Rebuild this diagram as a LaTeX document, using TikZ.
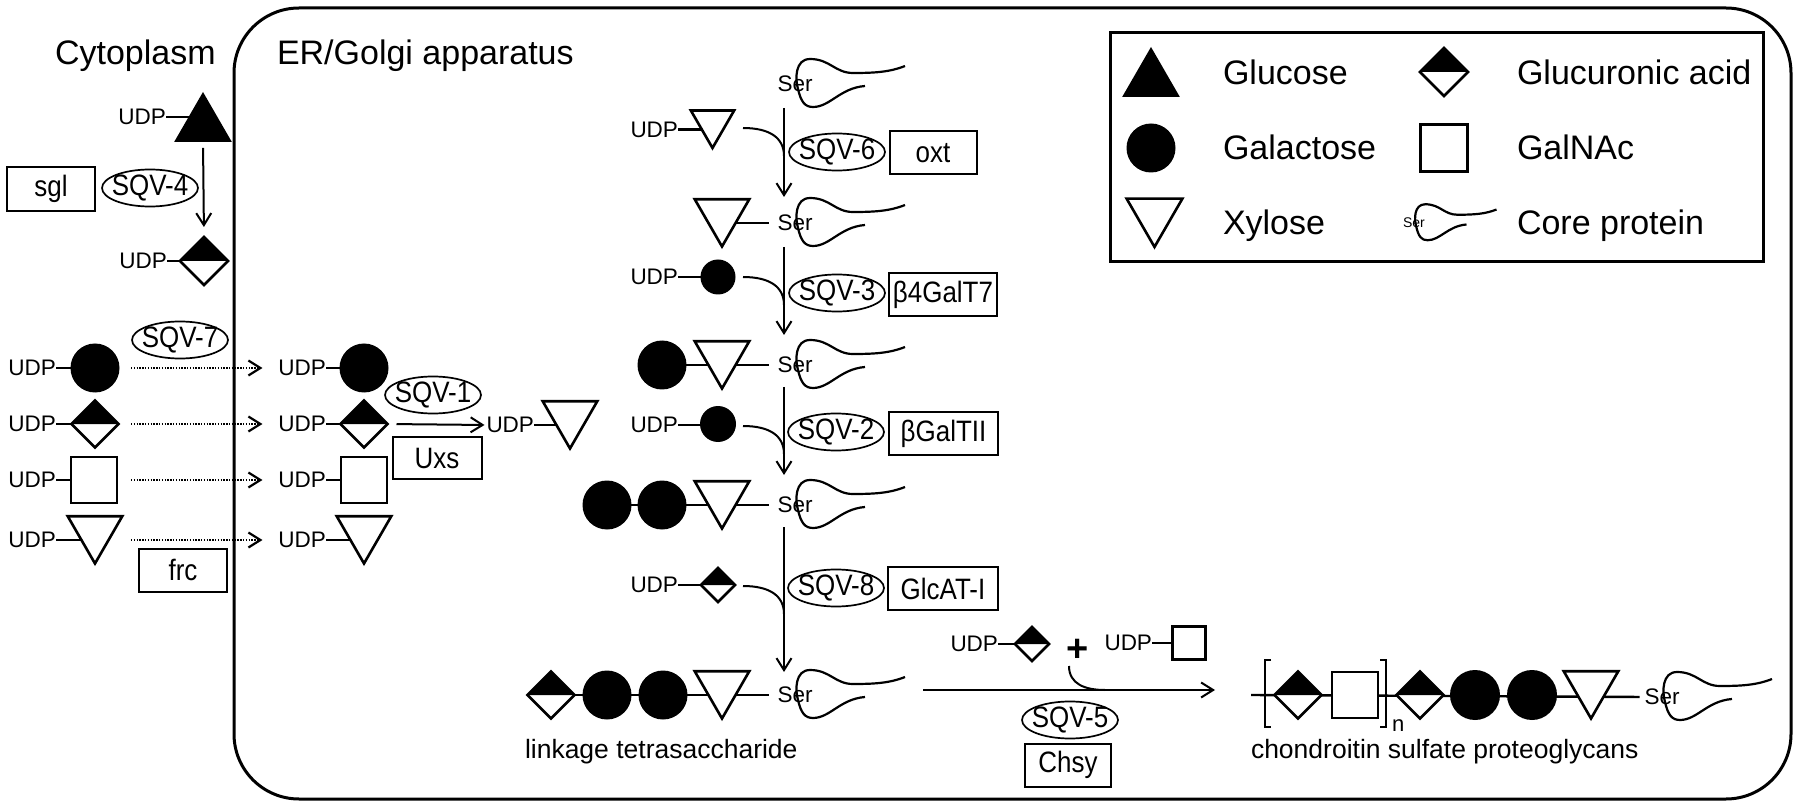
\documentclass[tikz,border=0pt]{standalone}
\usepackage{fontspec}
\setmainfont{Liberation Sans}
\newfontfamily\condfont[FakeStretch=0.88]{Liberation Sans}
\usetikzlibrary{shapes.geometric,arrows.meta,backgrounds}
\newcommand\zw[1]{\makebox[0pt]{#1}}
\begin{document}
\begin{tikzpicture}[x=1pt,y=-1pt,
  every node/.style={inner sep=0pt,outer sep=0pt},
  udp/.style={font=\fontsize{22.5}{25}\selectfont},
  sertext/.style={font=\fontsize{22.5}{25}\selectfont},
  big/.style={font=\fontsize{34}{40}\selectfont},
  lab/.style={font=\fontsize{26.5}{30}\selectfont},
  enz/.style={draw,line width=2pt,font=\condfont\fontsize{29.5}{32}\selectfont,minimum height=43},
  sqv/.style={ellipse,draw,line width=1.7pt,font=\condfont\fontsize{29.5}{32}\selectfont,minimum width=96,minimum height=37},
  arr/.style={line width=2pt,-{Straight Barb[length=12pt,width=15pt]}},
  dotarr/.style={line width=2.2pt,dash pattern=on 1.3pt off 1.5pt,-{Straight Barb[length=12pt,width=15pt]}},
  bond/.style={line width=2.4pt},
  galS/.style={circle,fill=black,minimum size=#1},
  glcS/.style={regular polygon,regular polygon sides=3,fill=black,minimum size=#1},
  xylS/.style={regular polygon,regular polygon sides=3,shape border rotate=180,draw,line width=2.6pt,fill=white,minimum size=#1},
  sqS/.style={rectangle,draw,line width=2.6pt,fill=white,minimum size=#1},
  gaS/.style={diamond,draw,line width=2.6pt,fill=white,minimum size=#1,
    path picture={\fill[black] (path picture bounding box.west) -- (path picture bounding box.north) -- (path picture bounding box.east) -- cycle;}},
  protein/.pic={\draw[line width=2.2pt] (70,2) .. controls (45,4) and (35,23) .. (18,23) .. controls (10,23) and (6,18) .. (3,5) .. controls (0,-5) and (0,-25) .. (15,-25) .. controls (35,-25) and (40,-11) .. (58,-11) .. controls (80,-11) and (95,-12) .. (110,-18);}
]
\useasboundingbox (0,0) rectangle (1800,810);
% compartments
\draw[line width=3pt,rounded corners=65pt] (234,8) rectangle (1791,799);
\node[big,anchor=base west] (cyto) at (55,65) {Cytoplasm};
\node[big,anchor=base west] (er) at (277,65) {ER/Golgi apparatus};

% legend
\draw[line width=3pt] (1110,33) rectangle (1763,262);
\node[glcS=66.6] (glcL) at (1151,80.3) {};
\node[big,anchor=base west] (tglc) at (1223,85) {Glucose};
\node[gaS=48] (gaL) at (1444,72) {};
\node[big,anchor=base west] (tga) at (1517,85) {Glucuronic acid};
\node[galS=49] (galL) at (1151,148) {};
\node[big,anchor=base west] (tgal) at (1223,160) {Galactose};
\node[sqS=47] (sqL) at (1444,148) {};
\node[big,anchor=base west] (tsq) at (1517,160) {GalNAc};
\node[xylS=64.5] (xylL) at (1154.5,214.7) {};
\node[big,anchor=base west] (txyl) at (1517,235) {Core protein};
\node[big,anchor=base west] (txyl2) at (1223,235) {Xylose};
\node[font=\fontsize{14}{16}\selectfont] (serL) at (1414,223) {Ser};
\pic[scale=0.75] at (serL) {protein};

% cytoplasm: UDP-Glc -> UDP-GlcA
\node[glcS=66.6] (glc0) at (203,125.3) {};
\node[udp,anchor=east] (u0) at (166,117) {UDP};
\node[gaS=48] (ga0) at (204,261) {};
\node[udp,anchor=east] (u1) at (167,261) {UDP};
\draw[arr,shorten <=6pt,shorten >=10pt] (glc0.south) -- (ga0.north);
\node[enz,minimum width=88,minimum height=44] (sgl) at (51,189) {sgl};
\node[sqv] (sqv4) at (150,188) {\zw{SQV-4}};

% transport rows
\node[udp,anchor=east] (ua1) at (56,368) {UDP};
\node[galS=49] (sa1) at (95,368) {};
\node[udp,anchor=east] (ua2) at (56,424) {UDP};
\node[gaS=47] (sa2) at (95,424) {};
\node[udp,anchor=east] (ua3) at (56,480) {UDP};
\node[sqS=46] (sa3) at (94,480) {};
\node[udp,anchor=east] (ua4) at (56,540) {UDP};
\node[xylS=63] (sa4) at (95,532) {};

\node[udp,anchor=east] (ub1) at (326,368) {UDP};
\node[galS=49] (sb1) at (364,368) {};
\node[udp,anchor=east] (ub2) at (326,424) {UDP};
\node[gaS=47] (sb2) at (364,424) {};
\node[udp,anchor=east] (ub3) at (326,480) {UDP};
\node[sqS=46] (sb3) at (364,480) {};
\node[udp,anchor=east] (ub4) at (326,540) {UDP};
\node[xylS=63] (sb4) at (364,532) {};

\draw[dotarr] ([xshift=75pt]ua1.east) -- ([xshift=-16pt]ub1.west);
\draw[dotarr] ([xshift=75pt]ua2.east) -- ([xshift=-16pt]ub2.west);
\draw[dotarr] ([xshift=75pt]ua3.east) -- ([xshift=-16pt]ub3.west);
\draw[dotarr] ([xshift=75pt]ua4.east) -- ([xshift=-16pt]ub4.west);
\node[sqv] (sqv7) at (180,340) {\zw{SQV-7}};
\node[enz,minimum width=88] (frc) at (183,570) {frc};

% Uxs
\node[udp,anchor=east] (uc) at (534,425) {UDP};
\node[xylS=63] (xc) at (570,417) {};
\draw[arr,shorten <=9pt,shorten >=2pt] (sb2.east) -- (uc.west);
\node[sqv] (sqv1) at (433,395) {\zw{SQV-1}};
\node[enz,minimum width=89,minimum height=42] (uxs) at (437,458) {Uxs};

% middle column
\node[sertext] (ser1) at (795,84) {Ser};
\pic at (ser1) {protein};
\node[udp,anchor=east] (ud1) at (678,129.5) {UDP};
\node[xylS=50] (dx1) at (712.5,123) {};
\coordinate (a1s) at (784,108); \coordinate (a1e) at (784,197);
\draw[arr] (a1s) -- (a1e);
\coordinate (c1s) at (743,128); \coordinate (c1e) at (784,156);
\draw[line width=2pt] (c1s) .. controls +(27,0) and +(0,-18) .. (c1e);
\node[sqv] (sqv6) at (837,152) {\zw{SQV-6}};
\node[enz,minimum width=87] (oxt) at (933,153) {oxt};

\node[sertext] (ser2) at (795,223) {Ser};
\pic at (ser2) {protein};
\node[xylS=63] (x2) at (722,215) {};
\node[udp,anchor=east] (ud2) at (678,277) {UDP};
\node[galS=35] (dg2) at (718,277) {};
\coordinate (a2s) at (784,247); \coordinate (a2e) at (784,335);
\draw[arr] (a2s) -- (a2e);
\coordinate (c2s) at (743,277); \coordinate (c2e) at (784,305);
\draw[line width=2pt] (c2s) .. controls +(27,0) and +(0,-18) .. (c2e);
\node[sqv] (sqv3) at (837,293) {\zw{SQV-3}};
\node[enz,minimum width=108] (galt7) at (943,294.5) {β4GalT7};

\node[sertext] (ser3) at (795,365) {Ser};
\pic at (ser3) {protein};
\node[galS=49] (g3a) at (662,365) {};
\node[xylS=63] (x3) at (722,357) {};
\node[udp,anchor=east] (ud3) at (678,425) {UDP};
\node[galS=36] (dg3) at (718,424) {};
\coordinate (a3s) at (784,387); \coordinate (a3e) at (784,475);
\draw[arr] (a3s) -- (a3e);
\coordinate (c3s) at (743,426); \coordinate (c3e) at (784,454);
\draw[line width=2pt] (c3s) .. controls +(27,0) and +(0,-18) .. (c3e);
\node[sqv] (sqv2) at (836,432) {\zw{SQV-2}};
\node[enz,minimum width=109] (galt2) at (943.5,433.5) {βGalTII};

\node[sertext] (ser4) at (795,505) {Ser};
\pic at (ser4) {protein};
\node[galS=49] (g4a) at (607,505) {};
\node[galS=49] (g4b) at (662,505) {};
\node[xylS=63] (x4) at (722,497) {};
\node[udp,anchor=east] (ud4) at (678,585) {UDP};
\node[gaS=34] (dga4) at (718,585) {};
\coordinate (a4s) at (784,527); \coordinate (a4e) at (784,672);
\draw[arr] (a4s) -- (a4e);
\coordinate (c4s) at (743,586); \coordinate (c4e) at (784,614);
\draw[line width=2pt] (c4s) .. controls +(27,0) and +(0,-18) .. (c4e);
\node[sqv] (sqv8) at (836,588) {\zw{SQV-8}};
\node[enz,minimum width=110] (glcat) at (943,588.5) {GlcAT-I};

\node[sertext] (ser5) at (795,695) {Ser};
\pic at (ser5) {protein};
\node[gaS=47] (d5) at (551,695) {};
\node[galS=49] (g5a) at (607,695) {};
\node[galS=49] (g5b) at (663,695) {};
\node[xylS=63] (x5) at (722,687) {};
\node[lab,anchor=base west] (tlink) at (525,758) {linkage tetrasaccharide};

% chondroitin synthesis
\coordinate (bs) at (923,690); \coordinate (be) at (1215,690);
\draw[arr] (bs) -- (be);
\node[udp,anchor=east] (ue1) at (998,644) {UDP};
\node[gaS=34] (dgae) at (1032,644) {};
\node[font=\bfseries\fontsize{38}{40}\selectfont] (plus) at (1078,650) {+};
\node[udp,anchor=east] (ue2) at (1152,643) {UDP};
\node[sqS=33] (sqe) at (1189,643) {};
\coordinate (cps) at (1069,666); \coordinate (cpe) at (1105,690);
\draw[line width=2pt] (cps) .. controls +(0,18) and +(-20,0) .. (cpe);
\node[sqv] (sqv5) at (1070,720) {\zw{SQV-5}};
\node[enz,minimum width=86] (chsy) at (1068,765) {Chsy};

\coordinate (cst) at (1251,695);
\node[sertext] (ser6) at (1662,697) {Ser};
\pic at (ser6) {protein};
\node[gaS=47] (cd1) at (1298,695) {};
\node[sqS=46] (csq) at (1355,695) {};
\node[gaS=47] (cd2) at (1420,695) {};
\node[galS=50] (cg1) at (1475,695) {};
\node[galS=50] (cg2) at (1532,695) {};
\node[xylS=63] (cx) at (1591,687) {};
\draw[line width=2pt] (1271,660) -- (1265,660) -- (1265,727) -- (1271,727);
\draw[line width=2pt] (1380,660) -- (1386,660) -- (1386,727) -- (1380,727);
\node[font=\fontsize{22}{24}\selectfont,anchor=base west] (nn) at (1392,731) {n};
\node[lab,anchor=base west] (tcs) at (1251,758) {chondroitin sulfate proteoglycans};

% bonds behind the sugars
\begin{pgfonlayer}{background}
\draw[bond] (u0.east) -- (u0.east -| glc0.center);
\draw[bond] (u1.east) -- (u1.east -| ga0.center);
\foreach \r in {1,2,3,4}{
  \draw[bond] (ua\r.east) -- (ua\r.east -| sa\r.center);
  \draw[bond] (ub\r.east) -- (ub\r.east -| sb\r.center);
}
\draw[bond] (uc.east) -- (uc.east -| xc.center);
\draw[bond] (ud1.east) -- (ud1.east -| dx1.center);
\draw[bond] (ud2.east) -- (ud2.east -| dg2.center);
\draw[bond] (ud3.east) -- (ud3.east -| dg3.center);
\draw[bond] (ud4.east) -- (ud4.east -| dga4.center);
\draw[bond,shorten >=9pt] (x2 |- ser2) -- (ser2.west);
\draw[bond,shorten >=9pt] (g3a |- ser3) -- (ser3.west);
\draw[bond,shorten >=9pt] (g4a |- ser4) -- (ser4.west);
\draw[bond,shorten >=9pt] (d5 |- ser5) -- (ser5.west);
\draw[bond] (ue1.east) -- (ue1.east -| dgae.center);
\draw[bond] (ue2.east) -- (ue2.east -| sqe.center);
\draw[bond,shorten >=5pt] (cst) -- (ser6.west);
\end{pgfonlayer}
\end{tikzpicture}
\end{document}
